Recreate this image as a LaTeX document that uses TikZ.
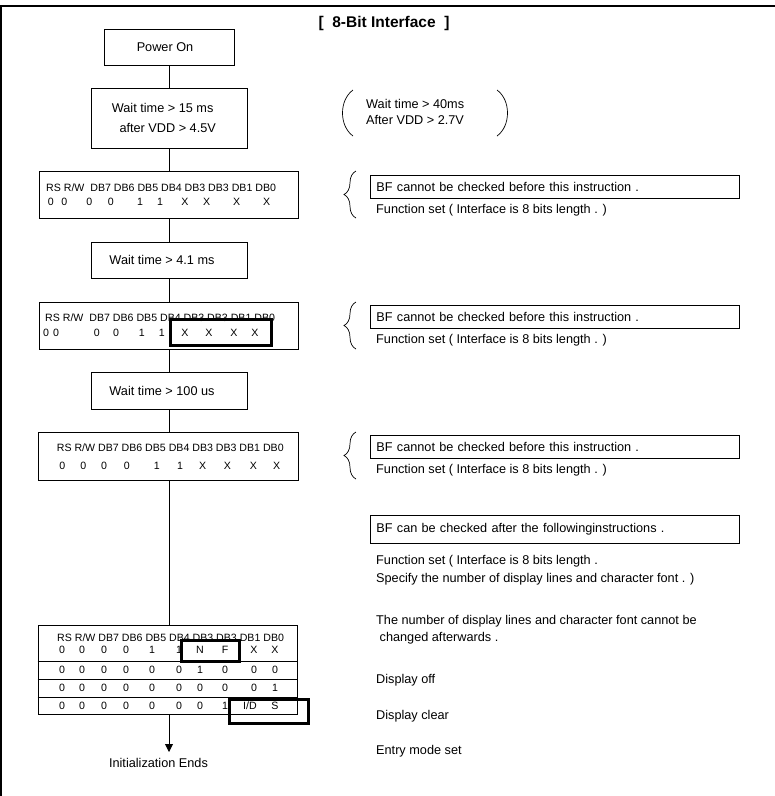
\documentclass[tikz,border=0pt]{standalone}
\usepackage{fontspec}
\setmainfont{Liberation Sans}
\usetikzlibrary{arrows.meta,decorations.pathreplacing}
\begin{document}
\begin{tikzpicture}[x=1pt,y=-1pt,
  every node/.style={font=\fontsize{12.7}{15}\selectfont, text=black, inner sep=0pt},
  box/.style={draw, line width=0.9pt, fill=white},
  small/.style={font=\fontsize{10.6}{12}\selectfont},
  rbox/.style={box, anchor=west, minimum width=369pt, minimum height=23pt, inner xsep=6pt, text width=357pt, align=left},
  hl/.style={draw, line width=3pt},
  conn/.style={line width=0.9pt},
  bracegrp/.style={decorate, decoration={brace, amplitude=12pt}, line width=0.7pt},
  ]
\useasboundingbox (0,0) rectangle (775,796);
% frame
\draw[line width=2pt] (0,5.7) -- (775,5.7);
\draw[line width=2pt] (1,5.7) -- (1,796);
% title
\node[font=\bfseries\fontsize{15.5}{18}\selectfont] (title) at (384,23) {[\ \ 8-Bit Interface\ \ ]};

% flow boxes
\node[box, minimum width=130pt, minimum height=36pt] (pwr) at (169,47) {};
\node (pwrt) at (165,47) {Power On};
\node[box, minimum width=156pt, minimum height=60pt] (w1) at (169,118) {};
\node[anchor=west] (w1a) at (111.7,108.3) {Wait time > 15 ms};
\node[anchor=west] (w1b) at (119.3,127.5) {after VDD > 4.5V};
\node[box, minimum width=259pt, minimum height=47pt] (b3) at (168.5,194.5) {};
\node[box, minimum width=156pt, minimum height=36pt] (w2) at (169,260) {};
\node (w2t) at (162,260) {Wait time > 4.1 ms};
\node[box, minimum width=259pt, minimum height=47pt] (b5) at (168.5,325.5) {};
\node[box, minimum width=156pt, minimum height=37pt] (w3) at (169,390.5) {};
\node (w3t) at (162,390.5) {Wait time > 100 us};
\node[box, minimum width=260pt, minimum height=48pt] (b7) at (168,456) {};
\node[box, minimum width=259pt, minimum height=89pt] (tbl) at (167.5,669.5) {};
\coordinate (tip) at (169,752);
\node (endt) at (158.5,763) {Initialization Ends};

% connectors
\draw[conn] (pwr.south -| 169,0) -- (w1.north -| 169,0);
\draw[conn] (w1.south -| 169,0) -- (b3.north -| 169,0);
\draw[conn] (b3.south -| 169,0) -- (w2.north -| 169,0);
\draw[conn] (w2.south -| 169,0) -- (b5.north -| 169,0);
\draw[conn] (b5.south -| 169,0) -- (w3.north -| 169,0);
\draw[conn] (w3.south -| 169,0) -- (b7.north -| 169,0);
\draw[conn] (b7.south -| 169,0) -- (tbl.north -| 169,0);
\draw[conn, -{Triangle[length=8pt,width=8pt]}] (tbl.south -| 169,0) -- (tip);

% box 3 contents
\node[small, anchor=west] (b3h) at (46,188) {RS R/W\hspace{3pt} DB7 DB6 DB5 DB4 DB3 DB3 DB1 DB0};
\foreach \v/\x [count=\i] in {0/50.7,0/64.3,0/89.3,0/110.7,1/140,1/160,X/185,X/206.7,X/236.7,X/266.7}
  \node[small] (b3v\i) at (\x,201.7) {\v};
% box 5 contents
\node[small, anchor=west] (b5h) at (45,317.5) {RS R/W\hspace{3pt} DB7 DB6 DB5 DB4 DB3 DB3 DB1 DB0};
\foreach \v/\x [count=\i] in {0/46,0/56,0/96.7,0/116,1/141.7,1/161.7,X/185,X/209,X/234,X/255}
  \node[small] (b5v\i) at (\x,332.5) {\v};
\draw[hl] (170,319.5) rectangle (271,345);
% box 7 contents
\node[small, anchor=west] (b7h) at (56.7,448) {RS R/W DB7 DB6 DB5 DB4 DB3 DB3 DB1 DB0};
\foreach \v/\x [count=\i] in {0/62.3,0/83.3,0/104,0/126.7,1/156.7,1/180,X/202.7,X/227.3,X/253.3,X/276.7}
  \node[small] (b7v\i) at (\x,465.5) {\v};

% table
\draw[line width=0.9pt] (tbl.west |- 0,661) -- (tbl.east |- 0,661);
\draw[line width=0.9pt] (tbl.west |- 0,679) -- (tbl.east |- 0,679);
\draw[line width=0.9pt] (tbl.west |- 0,697) -- (tbl.east |- 0,697);
\node[small, anchor=west] (th) at (57,638) {RS R/W DB7 DB6 DB5 DB4 DB3 DB3 DB1 DB0};
\foreach \v/\x [count=\i] in {0/62,0/82,0/104,0/126,1/152,1/179,N/200,F/225,X/254,X/275}
  \node[small] (ta\i) at (\x,650) {\v};
\foreach \v/\x [count=\i] in {0/62,0/82,0/104,0/126,0/152,0/179,1/200,0/225,0/254,0/275}
  \node[small] (tb\i) at (\x,670) {\v};
\foreach \v/\x [count=\i] in {0/62,0/82,0/104,0/126,0/152,0/179,0/200,0/225,0/254,1/275}
  \node[small] (tc\i) at (\x,688) {\v};
\foreach \v/\x [count=\i] in {0/62,0/82,0/104,0/126,0/152,0/179,0/200,1/225,{I/D}/250,S/275}
  \node[small] (td\i) at (\x,705.5) {\v};
\draw[hl] (181,640.5) rectangle (239,661);
\draw[hl] (229,699) rectangle (308,723);

% right side
\draw[line width=0.7pt] (353,90) .. controls (339,100) and (339,126) .. (353,136);
\draw[line width=0.7pt] (497,90) .. controls (511,100) and (511,126) .. (497,136);
\node[anchor=west] (r1a) at (366,104) {Wait time > 40ms};
\node[anchor=west] (r1b) at (366,120) {After VDD > 2.7V};

\draw[bracegrp] (356,218) -- (356,171);
\node[rbox] (bf1) at (370,186.5) {BF cannot be checked before this instruction .};
\node[anchor=west] (fs1) at (376,210) {Function set ( Interface is 8 bits length . )};

\draw[bracegrp] (356,349) -- (356,302);
\node[rbox] (bf2) at (370,316.5) {BF cannot be checked before this instruction .};
\node[anchor=west] (fs2) at (376,340) {Function set ( Interface is 8 bits length . )};

\draw[bracegrp] (356,479) -- (356,432);
\node[rbox] (bf3) at (370,446.5) {BF cannot be checked before this instruction .};
\node[anchor=west] (fs3) at (376,470) {Function set ( Interface is 8 bits length . )};

\node[rbox, minimum height=28pt] (bf4) at (370,529) {BF can be checked after the followinginstructions .};
\node[anchor=west] (n1) at (376,561.5) {Function set ( Interface is 8 bits length .};
\node[anchor=west] (n2) at (376,579.5) {Specify the number of display lines and character font . )};
\node[anchor=west] (n3) at (376,621) {The number of display lines and character font cannot be};
\node[anchor=west] (n4) at (379.5,638.5) {changed afterwards .};
\node[anchor=west] (n5) at (376,680.5) {Display off};
\node[anchor=west] (n6) at (376,716.5) {Display clear};
\node[anchor=west] (n7) at (376,751) {Entry mode set};
\end{tikzpicture}
\end{document}
